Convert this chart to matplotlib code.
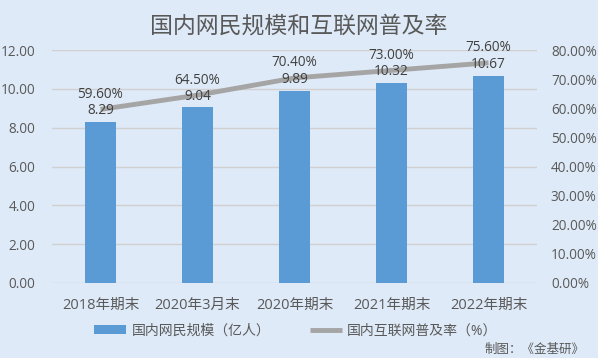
import matplotlib.pyplot as plt
import numpy as np

plt.rcParams['font.family'] = ['Open Sans', 'Noto Sans CJK SC', 'DejaVu Sans']

categories = ['2018年期末', '2020年3月末', '2020年期末', '2021年期末', '2022年期末']
users = [8.29, 9.04, 9.89, 10.32, 10.67]
rate = [59.6, 64.5, 70.4, 73.0, 75.6]

bg = '#DEEAF7'
text_color = '#595959'

fig = plt.figure(figsize=(5.98, 3.58), dpi=100, facecolor=bg)
ax = fig.add_axes([52/598, 1 - 283/358, 485/598, 233/358], facecolor=bg)
ax2 = ax.twinx()

x = np.arange(len(categories))
ax.bar(x, users, width=0.31, color='#5B9BD5', zorder=2, label='国内网民规模（亿人）')
ax.set_xlim(-0.5, 4.5)
ax.set_ylim(0, 12)
ax.set_yticks(np.arange(0, 13, 2))
ax.set_yticklabels([f'{v:.2f}' for v in np.arange(0, 13, 2)])
ax.grid(axis='y', color='#D0D0D0', linewidth=1, zorder=0)
ax.set_axisbelow(True)
ax.set_xticks(x)
ax.set_xticklabels(categories)

ax2.plot(x, rate, color='#A5A5A5', linewidth=3.5, solid_capstyle='butt', zorder=1,
         label='国内互联网普及率（%）')
ax2.set_ylim(0, 80)
ax2.set_yticks(np.arange(0, 81, 10))
ax2.set_yticklabels([f'{v:.2f}%' for v in np.arange(0, 81, 10)])

for a in (ax, ax2):
    for s in a.spines.values():
        s.set_visible(False)
    a.tick_params(length=0, colors=text_color, labelsize=9.8)
ax.tick_params(axis='y', pad=12)
ax2.tick_params(axis='y', pad=10)
ax.tick_params(axis='x', pad=11, labelsize=10.5)

# labels drawn on ax2 so they sit above the line
for xi, v in zip(x, users):
    ax2.text(xi, v + 0.2, f'{v:.2f}', ha='center', va='bottom', fontsize=9.8,
             color='#404040', transform=ax.transData, zorder=5)
for xi, r in zip(x, rate):
    ax2.text(xi, r + 2.6, f'{r:.2f}%', ha='center', va='bottom', fontsize=9.8,
             color='#404040', zorder=5)

fig.text(0.5, 1 - 27/358, '国内网民规模和互联网普及率', ha='center', va='center',
         fontsize=16.5, color=text_color)

h1, l1 = ax.get_legend_handles_labels()
h2, l2 = ax2.get_legend_handles_labels()
fig.legend(h1 + h2, l1 + l2, loc='center', bbox_to_anchor=(296/598, 1 - 331/358), ncol=2,
           frameon=False, fontsize=10, labelcolor=text_color, columnspacing=2.9,
           handlelength=2.3, handletextpad=0.35, handleheight=0.55)
fig.text(585/598, 1 - 349/358, '制图：《金基研》', ha='right', va='center', fontsize=9, color=text_color)

fig.savefig('out.png', dpi=100, facecolor=bg)
